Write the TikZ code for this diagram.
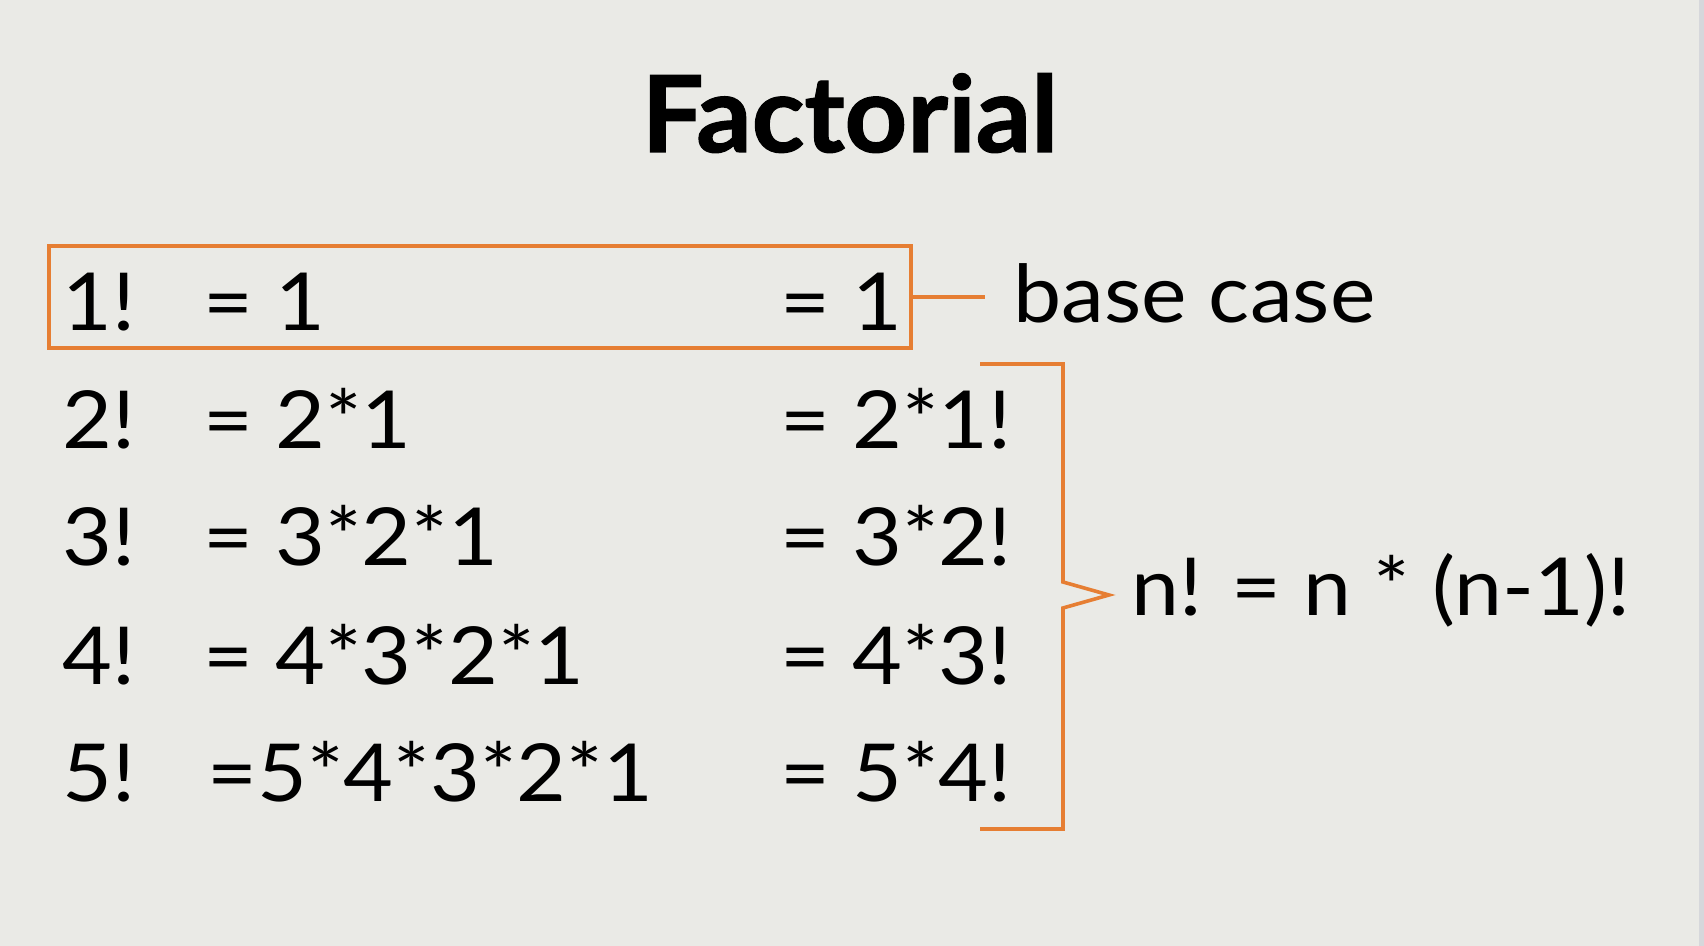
\documentclass[tikz,border=0pt]{standalone}
\usepackage{fontspec}
\setmainfont{Lato}[FakeStretch=1.075]
\newfontfamily\titlefont{Lato}[FakeStretch=1.03, FakeBold=1.2]
\definecolor{slideorange}{HTML}{E67E33}
\definecolor{slidebg}{HTML}{EAEAE6}
\definecolor{slideedge}{HTML}{D6D7DB}
\begin{document}
\begin{tikzpicture}[x=0.5pt,y=-0.5pt,
                rowtext/.style={anchor=base west, inner sep=0pt, text=black, font=\fontsize{40}{48}\selectfont},
                orangeline/.style={draw=slideorange, line width=1.8pt}]
                \fill[slidebg] (0,0) rectangle (1704,946);
                \fill[slideedge] (1699,0) rectangle (1704,946);
                \useasboundingbox (0,0) rectangle (1704,946);

                \node [anchor=base, inner sep=0pt, font=\fontsize{53}{60}\titlefont\bfseries] (title) at (850,152) {Factorial};

                \node [rowtext] (n1) at (62,331) {1!};
                \node [rowtext] (n2) at (62,449) {2!};
                \node [rowtext] (n3) at (62,566) {3!};
                \node [rowtext] (n4) at (62,684) {4!};
                \node [rowtext] (n5) at (62,801) {5!};

                \node [rowtext] (e1) at (203,331) {= 1};
                \node [rowtext] (e2) at (203,449) {= 2*1};
                \node [rowtext] (e3) at (203,566) {= 3*2*1};
                \node [rowtext] (e4) at (203,684) {= 4*3*2*1};
                \node [rowtext] (e5) at (207,801) {=5*4*3*2*1};

                \node [rowtext] (r1) at (780,331) {= 1};
                \node [rowtext] (r2) at (780,449) {= 2*1!};
                \node [rowtext] (r3) at (780,566) {= 3*2!};
                \node [rowtext] (r4) at (780,684) {= 4*3!};
                \node [rowtext] (r5) at (780,801) {= 5*4!};

                \node [orangeline, inner sep=0pt, minimum width=431pt, minimum height=51pt] (basebox) at (480,297) {};
                \node [rowtext] (basecase) at (1013,323) {base case};
                \draw [orangeline] (basebox.east) -- ++(72,0);

                \coordinate (tip) at (1109,595);
                \draw [orangeline] (980,364) -- (1063,364) -- (1063,582) -- (tip) -- (1063,608) -- (1063,829) -- (980,829);
                \node [rowtext] (rule) at (1131,616) {n! = n * (n-1)!};
\end{tikzpicture}
\end{document}
